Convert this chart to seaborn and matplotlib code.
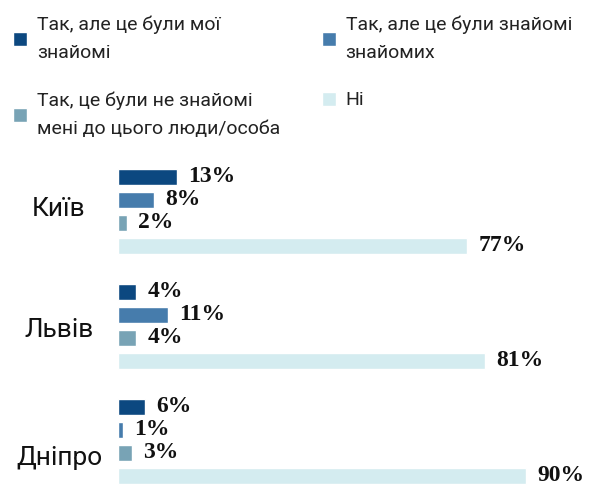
import matplotlib
matplotlib.use("Agg")
import matplotlib.pyplot as plt
import seaborn as sns
import pandas as pd
from matplotlib.transforms import ScaledTranslation

# ---- data ----
cities = ["Київ", "Львів", "Дніпро"]
answers = [
    "Так, але це були мої\nзнайомі",
    "Так, але це були знайомі\nзнайомих",
    "Так, це були не знайомі\nмені до цього люди/особа",
    "Ні",
]
kyiv = [13, 8, 2, 77]
lviv = [4, 11, 4, 81]
dnipro = [6, 1, 3, 90]
colors = ["#0c4880", "#467cac", "#78a3b5", "#d4ecf0"]

rows = []
for city, vals in zip(cities, [kyiv, lviv, dnipro]):
    for a, v in zip(answers, vals):
        rows.append({"city": city, "answer": a, "value": v})
df = pd.DataFrame(rows)

sns.set_theme(style="white")
plt.rcParams["font.family"] = ["Roboto", "DejaVu Sans"]

W, H = 593, 486
fig = plt.figure(figsize=(W / 100, H / 100), dpi=100)
ax = fig.add_axes([118 / W, 0, 1 - 118 / W, (H - 155) / H])

sns.barplot(data=df, y="city", x="value", hue="answer", order=cities,
            hue_order=answers, palette=colors, orient="h", width=0.8,
            gap=0.3, saturation=1, ax=ax)

ax.set_xlim(0, 104.7)
ax.set_ylim(2.389, -0.489)
ax.set_xlabel("")
ax.set_ylabel("")
ax.set_xticks([])
sns.despine(ax=ax, left=True, bottom=True)

for c in ax.containers:
    ax.bar_label(c, fmt="{:.0f}%", padding=8, fontsize=17, fontweight="bold",
                 family=["Liberation Serif", "DejaVu Serif"], color="#111111")

ax.tick_params(axis="y", length=0, pad=42.5, labelsize=19, colors="#111111")
shifts_px = [-4.75, 1.25, 14.25]
for lab, d in zip(ax.get_yticklabels(), shifts_px):
    lab.set_ha("center")
    lab.set_transform(lab.get_transform() + ScaledTranslation(0, -d / 100, fig.dpi_scale_trans))

handles, labels = ax.get_legend_handles_labels()
ax.get_legend().remove()
order = [0, 2, 1, 3]
leg = fig.legend([handles[i] for i in order], [labels[i] for i in order],
                 loc="upper left", bbox_to_anchor=(13 / W, 1 - 16 / H),
                 bbox_transform=fig.transFigure, ncol=2, frameon=False,
                 fontsize=14, handlelength=0.72, handleheight=0.72,
                 handletextpad=0.5, columnspacing=2.15, labelspacing=1.5,
                 borderpad=0, borderaxespad=0)
for t in leg.get_texts():
    t.set_linespacing(1.7)
    t.set_color("#222222")

fig.savefig("out.png", dpi=100)
